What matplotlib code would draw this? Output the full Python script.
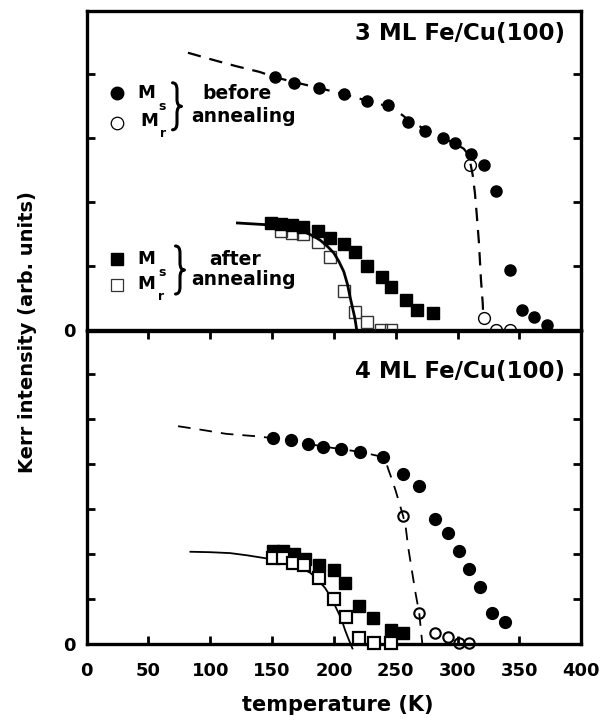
import matplotlib
matplotlib.use('Agg')
import matplotlib.pyplot as plt
from matplotlib.lines import Line2D
from matplotlib.path import Path
from matplotlib.patches import PathPatch

# ---------------- data ----------------
# 3 ML Fe/Cu(100), before annealing
t3_ms_before = [152, 168, 188, 208, 227, 244, 260, 274, 288, 298, 311, 321, 331, 342, 352, 362, 372]
v3_ms_before = [3.96, 3.87, 3.79, 3.69, 3.58, 3.52, 3.25, 3.12, 3.00, 2.93, 2.76, 2.58, 2.18, 0.94, 0.32, 0.21, 0.08]
t3_mr_before = [310, 321, 331, 342]
v3_mr_before = [2.59, 0.20, 0.0, 0.0]
t3_fit_before = [82, 102, 121, 140, 152, 168, 188, 208, 227, 244, 255, 261, 274, 288, 298, 305, 309,
                 311, 312.2, 314, 315.4, 317.3, 318.9, 320.3, 320.8]
v3_fit_before = [4.34, 4.23, 4.13, 4.04, 3.96, 3.88, 3.79, 3.69, 3.59, 3.50, 3.37, 3.28, 3.14, 3.01, 2.92, 2.84, 2.74,
                 2.55, 2.43, 2.15, 1.83, 1.36, 0.79, 0.43, 0.20]
# 3 ML Fe/Cu(100), after annealing
t3_ms_after = [149, 157, 166, 175, 187, 197, 208, 217, 227, 239, 246, 258, 267, 280]
v3_ms_after = [1.68, 1.66, 1.65, 1.62, 1.56, 1.44, 1.35, 1.23, 1.00, 0.83, 0.68, 0.48, 0.32, 0.27]
t3_mr_after = [157, 166, 175, 187, 197, 208, 217, 227, 238, 246]
v3_mr_after = [1.55, 1.52, 1.50, 1.39, 1.15, 0.61, 0.29, 0.14, 0.0, 0.0]
t3_fit_after = [122, 148, 165, 175, 183, 189, 195, 200, 204, 208, 211, 213, 215, 217, 218.5]
v3_fit_after = [1.68, 1.65, 1.61, 1.55, 1.48, 1.41, 1.31, 1.21, 1.08, 0.92, 0.72, 0.53, 0.36, 0.19, 0.0]

# 4 ML Fe/Cu(100), before annealing
t4_ms_before = [151, 165, 179, 191, 206, 221, 240, 256, 269, 282, 292, 301, 309, 318, 328, 338]
v4_ms_before = [4.57, 4.53, 4.44, 4.38, 4.33, 4.27, 4.16, 3.78, 3.51, 2.77, 2.46, 2.07, 1.66, 1.27, 0.70, 0.50]
t4_mr_before = [256, 269, 282, 292, 301, 309]
v4_mr_before = [2.84, 0.68, 0.24, 0.16, 0.02, 0.02]
t4_fit_before = [74, 93, 113, 140, 151, 165, 179, 191, 206, 221, 239, 242, 244, 247, 250, 253, 256,
                 258, 260, 263, 266, 269, 271.5]
v4_fit_before = [4.84, 4.76, 4.67, 4.61, 4.57, 4.53, 4.45, 4.39, 4.33, 4.27, 4.16, 4.05, 3.88, 3.65, 3.40, 3.12, 2.84,
                 2.61, 2.16, 1.64, 1.13, 0.68, 0.0]
# 4 ML Fe/Cu(100), after annealing
t4_ms_after = [151, 159, 168, 177, 188, 200, 209, 220, 232, 246, 256]
v4_ms_after = [2.07, 2.07, 2.00, 1.88, 1.76, 1.64, 1.35, 0.84, 0.57, 0.31, 0.25]
t4_mr_after = [150.5, 158.6, 167.2, 175.8, 188.2, 200.3, 209.8, 220.3, 232.7, 245.9]
v4_mr_after = [1.92, 1.92, 1.81, 1.76, 1.46, 1.01, 0.59, 0.14, 0.02, 0.02]
t4_fit_after = [84, 100, 116, 130, 146, 160, 170, 181, 187, 193, 198, 202, 206, 209, 212, 215]
v4_fit_after = [2.05, 2.04, 2.02, 1.97, 1.90, 1.83, 1.74, 1.58, 1.43, 1.24, 1.02, 0.79, 0.56, 0.31, 0.10, -0.10]

x_ticks = [0, 50, 100, 150, 200, 250, 300, 350, 400]
x_ticklabels = ['0', '50', '100', '150', '200', '250', '300', '350', '400']
titles = ['3 ML Fe/Cu(100)', '4 ML Fe/Cu(100)']
xlabel = 'temperature (K)'
ylabel = 'Kerr intensity (arb. units)'

# ---------------- figure ----------------
W, H = 603, 723
fig = plt.figure(figsize=(W / 100, H / 100), dpi=100)
FONT = 'DejaVu Sans'


def fx(px):
    return px / W


def fy(py):
    return 1 - py / H


left, right = 86.5, 581.3
ax1 = fig.add_axes([fx(left), fy(330.5), fx(right) - fx(left), (330.5 - 10.5) / H])
ax2 = fig.add_axes([fx(left), fy(644), fx(right) - fx(left), (644 - 330.5) / H])

for ax in (ax1, ax2):
    ax.set_xlim(0, 400)
    for s in ax.spines.values():
        s.set_linewidth(2.4)
    ax.tick_params(direction='in', length=6, width=2, labelsize=13, pad=8)

ax1.set_ylim(0, 5)
ax2.set_ylim(0, 313.5 / 45)

ax1.set_yticks([0, 1, 2, 3, 4])
ax1.set_yticklabels(['0', '', '', '', ''])
ax2.set_yticks([0, 1, 2, 3, 4, 5, 6])
ax2.set_yticklabels(['0', '', '', '', '', '', ''])
ax1.tick_params(axis='y', left=True, right=True)
ax2.tick_params(axis='y', left=True, right=True)

ax1.set_xticks(x_ticks)
ax1.tick_params(axis='x', bottom=False, top=False, labelbottom=False)
ax2.set_xticks(x_ticks)
ax2.set_xticklabels(x_ticklabels)
ax2.tick_params(axis='x', bottom=True, top=True, labelbottom=True, pad=13)

for ax in (ax1, ax2):
    for lab in ax.get_xticklabels() + ax.get_yticklabels():
        lab.set_fontweight('bold')
        lab.set_family(FONT)

# ---- top panel ----
ax1.plot(t3_fit_before, v3_fit_before, color='black', lw=1.6, ls=(0, (6, 4)), zorder=2)
ax1.plot(t3_ms_before, v3_ms_before, 'o', color='black', ms=8, zorder=4)
ax1.plot(t3_mr_before, v3_mr_before, 'o', mfc='none', mec='black', mew=1.0, ms=8.5, zorder=5, clip_on=False)
ax1.plot(t3_mr_after, v3_mr_after, 's', mfc='none', mec='#333333', mew=1.0, ms=8, zorder=3, clip_on=False)
ax1.plot(t3_fit_after, v3_fit_after, color='black', lw=2.0, zorder=4)
ax1.plot(t3_ms_after, v3_ms_after, 's', color='black', ms=8, zorder=5)

# ---- bottom panel ----
ax2.plot(t4_fit_before, v4_fit_before, color='black', lw=1.3, ls=(0, (7, 5)), zorder=2, clip_on=False)
ax2.plot(t4_ms_before, v4_ms_before, 'o', color='black', ms=8.5, zorder=4)
ax2.plot(t4_mr_before, v4_mr_before, 'o', mfc='none', mec='black', mew=1.5, ms=7.5, zorder=5, clip_on=False)
ax2.plot(t4_fit_after, v4_fit_after, color='black', lw=1.3, zorder=3, clip_on=False)
ax2.plot(t4_ms_after, v4_ms_after, 's', color='black', ms=8, zorder=4)
ax2.plot(t4_mr_after, v4_mr_after, 's', mfc='white', mec='black', mew=1.6, ms=8, zorder=5, clip_on=False)

# ---- titles ----
fig.text(fx(565), fy(33.5), titles[0], ha='right', va='center', fontsize=16.5,
         fontweight='bold', family=FONT)
fig.text(fx(565), fy(372), titles[1], ha='right', va='center', fontsize=16.5,
         fontweight='bold', family=FONT)

# ---- axis labels ----
fig.text(fx(338), fy(705), xlabel, ha='center', va='center', fontsize=15,
         fontweight='bold', family=FONT)
fig.text(fx(28), fy(332), ylabel, ha='center', va='center', rotation=90, fontsize=14,
         fontweight='bold', family=FONT)


# ---- custom legends ----
def marker(px, py, **kw):
    fig.add_artist(Line2D([fx(px)], [fy(py)], transform=fig.transFigure, **kw))


def txt(px, py, s, size, **kw):
    fig.text(fx(px), fy(py), s, ha='center', va='center', fontsize=size,
             fontweight='bold', family=FONT, **kw)


def brace(cx, cy, h, w=9, r=7):
    xl, xm, xr = cx - w / 2, cx, cx + w / 2
    yt, yb = cy - h / 2, cy + h / 2
    pts = [(xl, yt), (xm, yt), (xm, yt + r),
           (xm, cy - r),
           (xm, cy), (xr, cy),
           (xm, cy), (xm, cy + r),
           (xm, yb - r),
           (xm, yb), (xl, yb)]
    codes = [Path.MOVETO, Path.CURVE3, Path.CURVE3,
             Path.LINETO,
             Path.CURVE3, Path.CURVE3,
             Path.CURVE3, Path.CURVE3,
             Path.LINETO,
             Path.CURVE3, Path.CURVE3]
    path = Path([(fx(x), fy(y)) for x, y in pts], codes)
    fig.add_artist(PathPatch(path, transform=fig.transFigure, fill=False,
                             lw=2.2, edgecolor='black', capstyle='round', joinstyle='round'))


# before annealing
marker(116.7, 93.3, marker='o', color='black', ms=9, ls='none')
marker(116.7, 123.3, marker='o', mfc='none', mec='black', mew=0.9, ms=9, ls='none')
txt(146, 93.5, 'M', 13)
txt(162, 107, 's', 9)
txt(149, 121.5, 'M', 13)
txt(163, 133.5, 'r', 9)
brace(177, 106.3, 47)
txt(236.7, 93.3, 'before', 13.5)
txt(243.3, 116, 'annealing', 13.5)

# after annealing
marker(116.7, 259.3, marker='s', color='black', ms=8.5, ls='none')
marker(116.7, 285, marker='s', mfc='none', mec='#333333', mew=0.9, ms=8.5, ls='none')
txt(146, 259, 'M', 13)
txt(162.5, 272, 's', 9)
txt(146, 284, 'M', 13)
txt(161.5, 297, 'r', 9)
brace(180, 270, 48)
txt(235, 259, 'after', 13.5)
txt(243.3, 280, 'annealing', 13.5)

fig.savefig('out.png', dpi=100)
